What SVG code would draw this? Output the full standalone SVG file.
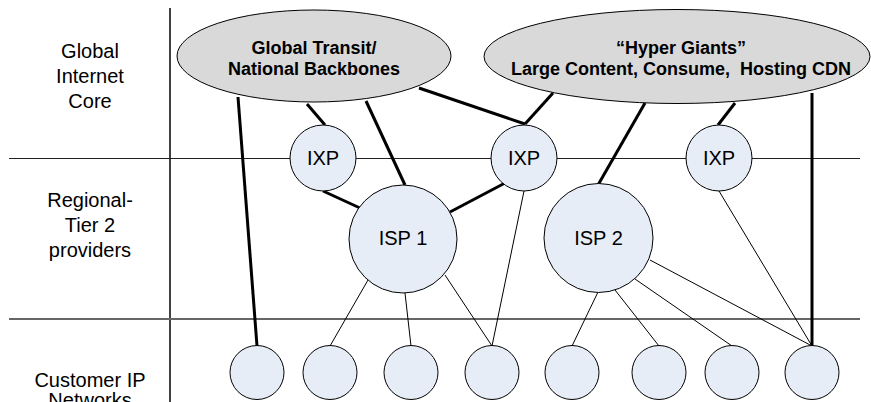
<svg xmlns="http://www.w3.org/2000/svg" width="871" height="402" viewBox="0 0 871 402">
<style>
.lbl{font-family:"Liberation Sans",Arial,sans-serif;font-size:20px;fill:#000;text-anchor:middle}
.bold{font-family:"Liberation Sans",Arial,sans-serif;font-size:18px;font-weight:bold;fill:#000;text-anchor:middle}
.ell{fill:#d9d9d9;stroke:#000;stroke-width:1}
.node{fill:#e7edf7;stroke:#000;stroke-width:1}
.thick{stroke:#000;stroke-width:3;fill:none}
.thin{stroke:#000;stroke-width:1;fill:none}
</style>
<rect width="871" height="402" fill="#fff"/>
<g id="grid">
<line x1="170" y1="8" x2="170" y2="402" stroke="#000" stroke-width="1.5"/>
<line x1="9" y1="158.5" x2="860" y2="158.5" stroke="#222" stroke-width="1"/>
<line x1="9" y1="319" x2="860" y2="319" stroke="#666" stroke-width="2"/>
</g>
<g id="row-labels">
<text class="lbl" x="90" y="58">Global</text>
<text class="lbl" x="90" y="83">Internet</text>
<text class="lbl" x="90" y="108">Core</text>
<text class="lbl" x="90" y="207">Regional-</text>
<text class="lbl" x="90" y="232">Tier 2</text>
<text class="lbl" x="90" y="257">providers</text>
<text class="lbl" x="90" y="387">Customer IP</text>
<text class="lbl" x="90" y="407">Networks</text>
</g>
<g id="connectors">
<line class="thick" x1="238" y1="97" x2="257" y2="346"/>
<line class="thick" x1="307" y1="104" x2="325" y2="125"/>
<line class="thick" x1="366" y1="101" x2="405" y2="185"/>
<line class="thick" x1="419" y1="88" x2="525" y2="124"/>
<line class="thick" x1="553" y1="93" x2="525" y2="124"/>
<line class="thick" x1="645" y1="103" x2="598" y2="185"/>
<line class="thick" x1="735" y1="103" x2="718" y2="125"/>
<line class="thick" x1="812" y1="93" x2="812" y2="346"/>
<line class="thick" x1="323" y1="191" x2="360" y2="208"/>
<line class="thick" x1="505" y1="183" x2="450" y2="212"/>
<line class="thin" x1="524" y1="191" x2="492" y2="346"/>
<line class="thin" x1="368" y1="280" x2="330" y2="346"/>
<line class="thin" x1="405" y1="293" x2="411" y2="346"/>
<line class="thin" x1="445" y1="275" x2="492" y2="346"/>
<line class="thin" x1="598" y1="292" x2="572" y2="346"/>
<line class="thin" x1="615" y1="290" x2="659" y2="346"/>
<line class="thin" x1="635" y1="279" x2="732" y2="346"/>
<line class="thin" x1="650" y1="260" x2="812" y2="346"/>
<line class="thin" x1="719" y1="191" x2="812" y2="346"/>
</g>
<g id="global-transit">
<ellipse class="ell" cx="314" cy="56" rx="137" ry="46"/>
<text class="bold" x="314" y="54">Global Transit/</text>
<text class="bold" x="314" y="75">National Backbones</text>
</g>
<g id="hyper-giants">
<ellipse class="ell" cx="677" cy="56.5" rx="193" ry="47"/>
<text class="bold" x="681" y="54">“Hyper Giants”</text>
<text class="bold" x="681" y="75" xml:space="preserve">Large Content, Consume,  Hosting CDN</text>
</g>
<g id="ixp1"><circle class="node" cx="323" cy="158" r="33"/><text class="lbl" x="323" y="165">IXP</text></g>
<g id="ixp2"><circle class="node" cx="524" cy="158" r="33"/><text class="lbl" x="524" y="165">IXP</text></g>
<g id="ixp3"><circle class="node" cx="719" cy="158" r="33"/><text class="lbl" x="719" y="165">IXP</text></g>
<g id="isp1"><circle class="node" cx="403" cy="239" r="54"/><text class="lbl" x="403" y="245">ISP 1</text></g>
<g id="isp2"><circle class="node" cx="598.5" cy="238" r="54.5"/><text class="lbl" x="598.5" y="245">ISP 2</text></g>
<g id="cust1"><circle class="node" cx="257" cy="372.5" r="27"/></g>
<g id="cust2"><circle class="node" cx="330" cy="372.5" r="27"/></g>
<g id="cust3"><circle class="node" cx="411" cy="372.5" r="27"/></g>
<g id="cust4"><circle class="node" cx="492" cy="372.5" r="27"/></g>
<g id="cust5"><circle class="node" cx="572" cy="372.5" r="27"/></g>
<g id="cust6"><circle class="node" cx="659" cy="372.5" r="27"/></g>
<g id="cust7"><circle class="node" cx="732" cy="372.5" r="27"/></g>
<g id="cust8"><circle class="node" cx="812" cy="372.5" r="27"/></g>
</svg>
